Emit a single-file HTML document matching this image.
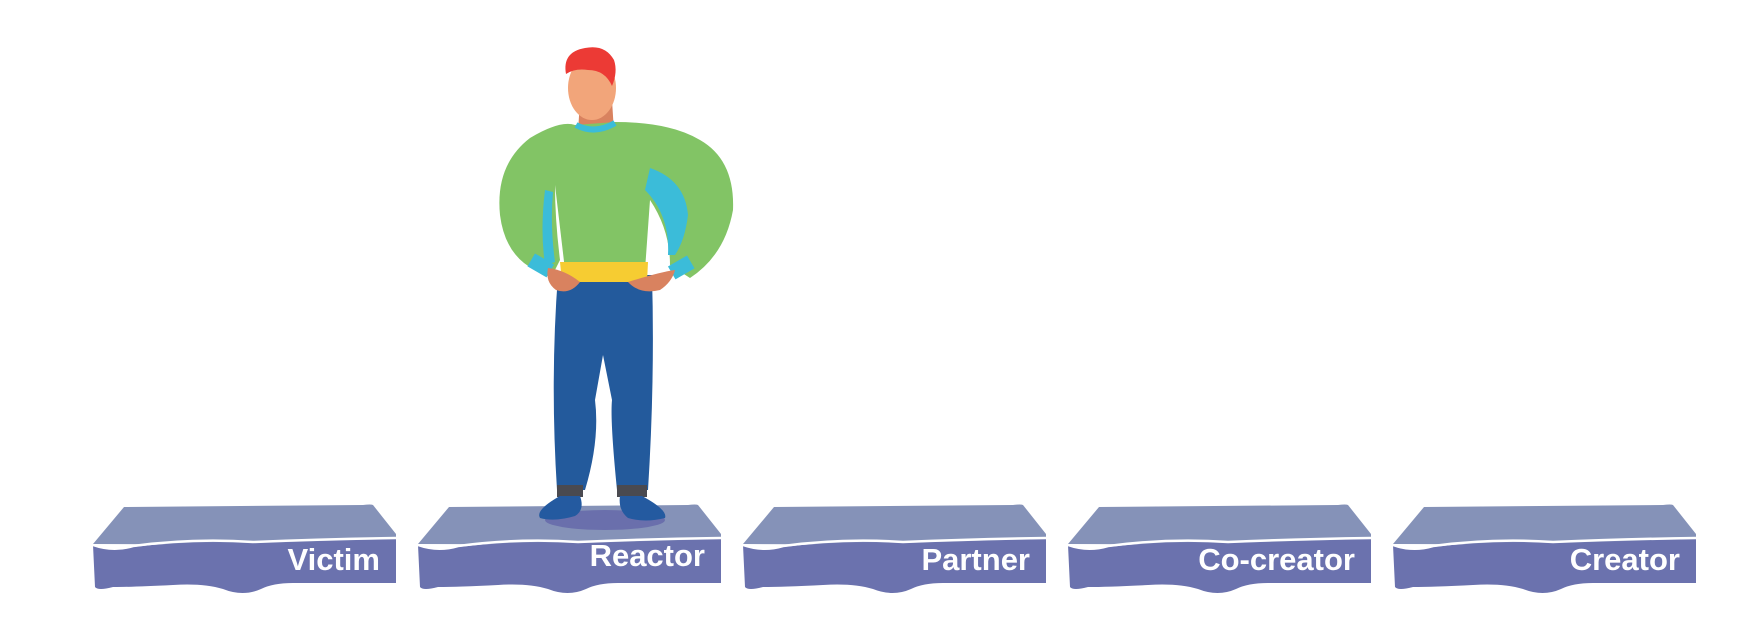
<!DOCTYPE html>
<html><head><style>
html,body{margin:0;padding:0;background:#fff;width:1754px;height:637px;overflow:hidden}
svg{display:block}
text{font-family:"Liberation Sans",sans-serif;font-weight:bold;fill:#fff;font-size:31px}
</style></head><body>
<svg width="1754" height="637" viewBox="0 0 1754 637" xmlns="http://www.w3.org/2000/svg">
<defs>
<g id="plat">
  <path d="M0,39 L31,2 L270,0 Q278,-1 280,0 L303,29 L303,40 Z" fill="#8592b8"/>
  <path d="M0,40 Q20,48 40,42 Q100,35 160,38 Q230,36 303,34 L303,78 L200,78 Q180,78 168,84 Q150,92 130,84 Q110,78 80,80 Q40,82 20,82 Q5,86 2,82 Z" fill="#6b72ae"/>
  <path d="M0,40 Q20,47 40,41 Q100,33 160,37 Q230,34 303,33" fill="none" stroke="#fff" stroke-width="2.5"/>
</g>
</defs>
<use href="#plat" x="93" y="505"/>
<use href="#plat" x="418" y="505"/>
<use href="#plat" x="743" y="505"/>
<use href="#plat" x="1068" y="505"/>
<use href="#plat" x="1393" y="505"/>
<text x="380" y="570" text-anchor="end">Victim</text>
<text x="705" y="566" text-anchor="end">Reactor</text>
<text x="1030" y="570" text-anchor="end">Partner</text>
<text x="1355" y="570" text-anchor="end">Co-creator</text>
<text x="1680" y="570" text-anchor="end">Creator</text>

<!-- person -->
<ellipse cx="605" cy="520" rx="60" ry="10" fill="#6a6fac"/>
<!-- pants -->
<path d="M558,275 L652,275 Q655,380 648,490 L617,490 Q610,420 612,400 L603,355 L595,400 Q600,440 585,490 L557,490 Q550,380 558,275 Z" fill="#235a9c"/>
<rect x="557" y="485" width="26" height="12" fill="#4a4a50"/>
<rect x="617" y="485" width="30" height="12" fill="#4a4a50"/>
<path d="M560,496 L580,496 Q585,510 575,516 Q555,522 540,518 Q535,510 560,496 Z" fill="#245aa0"/>
<path d="M620,496 L642,496 Q668,510 665,518 Q645,523 628,518 Q618,510 620,496 Z" fill="#245aa0"/>
<!-- neck/head -->
<path d="M580,100 L612,100 L614,132 L578,132 Z" fill="#d9825f"/>
<ellipse cx="592" cy="88" rx="24" ry="32" fill="#f2a57a"/>
<path d="M566,74 Q562,52 585,48 Q605,44 614,60 Q618,72 612,86 Q605,70 588,70 Q575,68 566,74 Z" fill="#ec3a35"/>
<!-- sweater -->
<path d="M575,125 Q560,120 530,138 Q495,165 500,215 Q505,255 535,270 L555,270 L560,260 Q555,220 555,185 L565,270 L645,270 L650,200 Q670,230 670,265 L690,278 Q725,255 733,210 Q735,160 700,140 Q670,122 615,122 Z" fill="#82c465"/>
<path d="M576,125 Q595,135 615,123" fill="none" stroke="#3bbcd9" stroke-width="6"/>
<path d="M650,168 Q685,180 688,215 Q685,240 675,255 L668,255 Q670,215 645,190 Z" fill="#3bbcd9"/>
<path d="M545,190 Q540,230 545,265 L555,262 Q550,225 553,192 Z" fill="#3bbcd9"/>
<rect x="530" y="258" width="22" height="15" fill="#3bbcd9" transform="rotate(30 541 265)"/>
<rect x="670" y="260" width="22" height="15" fill="#3bbcd9" transform="rotate(-30 681 267)"/>
<path d="M560,262 L648,262 L647,282 L562,282 Z" fill="#f6cc32"/>
<path d="M548,268 Q565,270 580,282 Q570,295 556,290 Q545,282 548,268 Z" fill="#d9825f"/>
<path d="M675,270 Q660,272 628,282 Q640,295 660,290 Q672,282 675,270 Z" fill="#d9825f"/>
</svg>
</body></html>
